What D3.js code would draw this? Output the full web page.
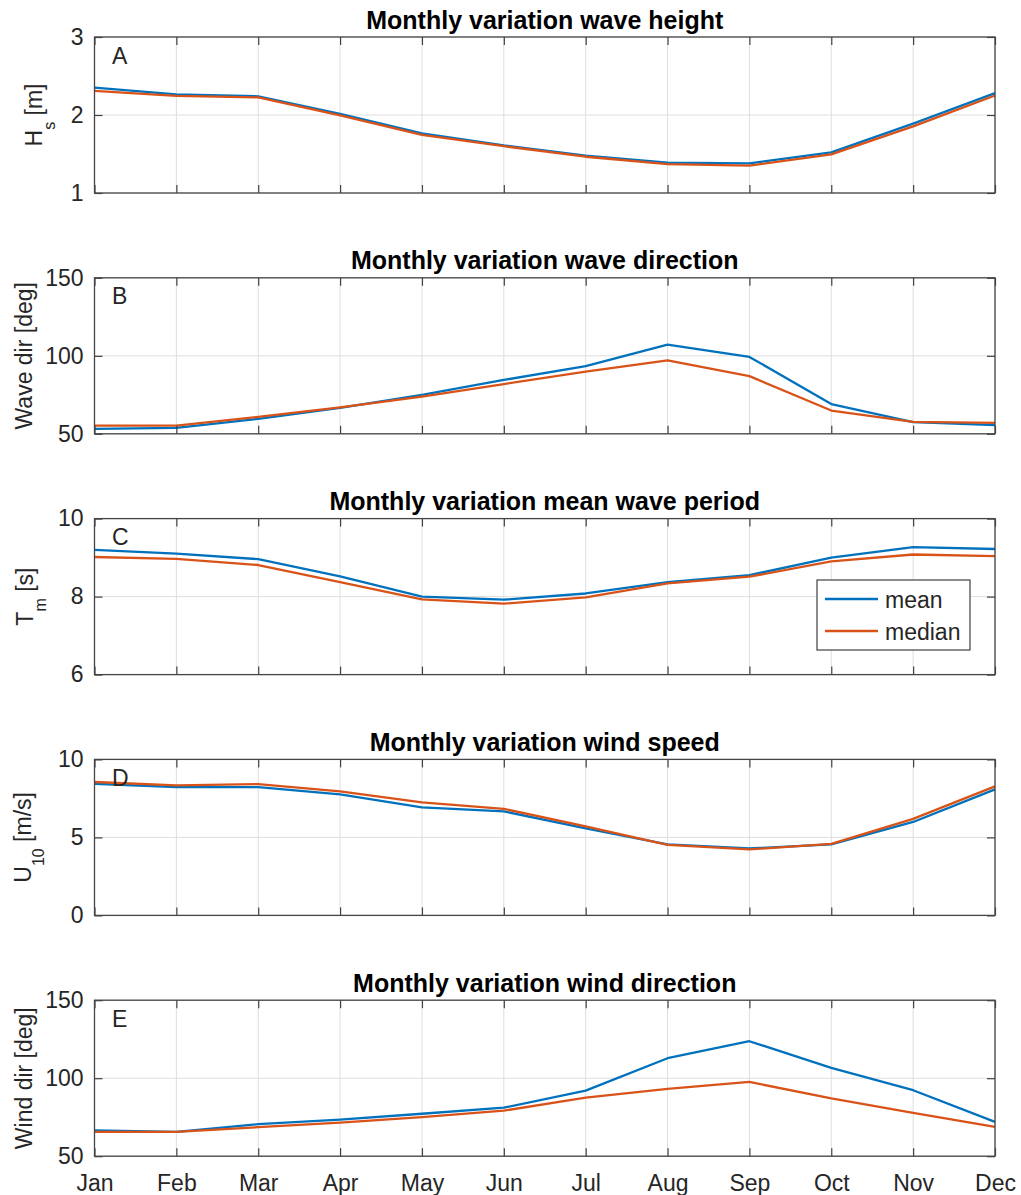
<!DOCTYPE html>
<html>
<head>
<meta charset="utf-8">
<script src="https://cdn.jsdelivr.net/npm/d3@7"></script>
<style>
  body { margin: 0; background: #fff; }
  text { font-family: "Liberation Sans", Arial, Helvetica, sans-serif; fill: #262626; }
  .title { font-weight: bold; fill: #000; }
</style>
</head>
<body>
<div class="chart"></div>
<script>
var svgWidth = 1021;
var svgHeight = 1195;

var months = ["Jan","Feb","Mar","Apr","May","Jun","Jul","Aug","Sep","Oct","Nov","Dec"];

// wave height Hs [m]
var hsMean   = [2.35, 2.265, 2.24, 2.015, 1.765, 1.61, 1.48, 1.39, 1.38, 1.52, 1.89, 2.28];
var hsMedian = [2.31, 2.245, 2.225, 1.995, 1.745, 1.60, 1.465, 1.37, 1.35, 1.495, 1.855, 2.25];
// wave direction [deg]
var wdMean   = [53.2, 53.8, 59.6, 66.6, 75.0, 84.5, 93.4, 107.2, 99.3, 69.1, 57.5, 55.5];
var wdMedian = [55.3, 55.3, 60.8, 66.9, 73.9, 81.9, 89.9, 97.0, 87.0, 64.9, 57.7, 57.0];
// mean wave period Tm [s]
var tmMean   = [9.2, 9.1, 8.96, 8.52, 8.0, 7.92, 8.08, 8.37, 8.55, 9.0, 9.27, 9.22];
var tmMedian = [9.015, 8.965, 8.81, 8.37, 7.93, 7.82, 7.98, 8.34, 8.51, 8.905, 9.08, 9.04];
// wind speed U10 [m/s]
var wsMean   = [8.44, 8.22, 8.22, 7.76, 6.92, 6.67, 5.58, 4.55, 4.29, 4.55, 5.99, 8.08];
var wsMedian = [8.55, 8.33, 8.42, 7.95, 7.24, 6.83, 5.71, 4.52, 4.23, 4.58, 6.19, 8.27];
// wind direction [deg]
var wiMean   = [66.5, 65.6, 70.5, 73.4, 77.2, 81.1, 92.0, 112.8, 123.7, 106.6, 92.3, 72.0];
var wiMedian = [65.6, 65.6, 68.6, 71.5, 75.0, 79.2, 87.5, 93.2, 97.6, 87.0, 77.8, 68.8];

var seriesNames = ["mean", "median"];
var colors = ["#0072BD", "#D95319"];

var panels = [
  {title: "Monthly variation wave height", letter: "A", domain: [1, 3], ticks: [1, 2, 3], label: ["H", "s", " [m]"], labelX: 42, series: [hsMean, hsMedian]},
  {title: "Monthly variation wave direction", letter: "B", domain: [50, 150], ticks: [50, 100, 150], label: ["Wave dir [deg]"], labelX: 31.5, series: [wdMean, wdMedian]},
  {title: "Monthly variation mean wave period", letter: "C", domain: [6, 10], ticks: [6, 8, 10], label: ["T", "m", " [s]"], labelX: 33, series: [tmMean, tmMedian], legend: true},
  {title: "Monthly variation wind speed", letter: "D", domain: [0, 10], ticks: [0, 5, 10], label: ["U", "10", " [m/s]"], labelX: 31, series: [wsMean, wsMedian]},
  {title: "Monthly variation wind direction", letter: "E", domain: [50, 150], ticks: [50, 100, 150], label: ["Wind dir [deg]"], labelX: 31.5, series: [wiMean, wiMedian]}
];

var left = 94.5, right = 995;
var panelTop = 37, panelStep = 240.8, panelH = 156;
var tickLen = 8;
var fontSize = 23;

var svg = d3.select(".chart")
  .append("svg")
  .attr("width", svgWidth)
  .attr("height", svgHeight);

var x = d3.scalePoint()
  .domain(months)
  .range([left, right]);

panels.forEach(function(p, i) {
  var top = panelTop + i * panelStep;
  var y = d3.scaleLinear().domain(p.domain).range([top + panelH, top]);
  var g = svg.append("g");

  // grid
  g.selectAll(".vgrid").data(months).enter().append("line")
    .attr("x1", d => x(d)).attr("x2", d => x(d))
    .attr("y1", top).attr("y2", top + panelH)
    .attr("stroke", "#dedede").attr("stroke-width", 1);
  g.selectAll(".hgrid").data(p.ticks).enter().append("line")
    .attr("x1", left).attr("x2", right)
    .attr("y1", d => y(d)).attr("y2", d => y(d))
    .attr("stroke", "#dedede").attr("stroke-width", 1);

  // lines
  p.series.forEach(function(vals, k) {
    var line = d3.line()
      .x((d, j) => x(months[j]))
      .y(d => y(d));
    g.append("path")
      .datum(vals)
      .attr("fill", "none")
      .attr("stroke", colors[k])
      .attr("stroke-width", 2.3)
      .attr("stroke-linejoin", "round")
      .attr("d", line);
  });

  // inward ticks on all four sides
  var bottomAxis = d3.axisBottom(x).tickSizeInner(-tickLen).tickSizeOuter(0).tickPadding(18).tickFormat(i === 4 ? null : "");
  var topAxis = d3.axisTop(x).tickSizeInner(-tickLen).tickSizeOuter(0).tickFormat("");
  var leftAxis = d3.axisLeft(y).tickValues(p.ticks).tickSizeInner(-tickLen).tickSizeOuter(0).tickPadding(11).tickFormat(d3.format("d"));
  var rightAxis = d3.axisRight(y).tickValues(p.ticks).tickSizeInner(-tickLen).tickSizeOuter(0).tickFormat("");

  [
    [bottomAxis, `translate(0, ${top + panelH})`],
    [topAxis, `translate(0, ${top})`],
    [leftAxis, `translate(${left}, 0)`],
    [rightAxis, `translate(${right}, 0)`]
  ].forEach(function(a) {
    var ag = g.append("g").attr("transform", a[1]).call(a[0]);
    ag.select(".domain").remove();
    ag.selectAll("line").attr("stroke", "#404040").attr("stroke-width", 1.2);
    ag.selectAll("text")
      .attr("font-size", fontSize)
      .attr("fill", "#262626")
      .style("font-family", "'Liberation Sans', Arial, sans-serif");
  });
  g.selectAll(".tick text").filter(function() { return this.textContent === ""; }).remove();

  // box
  g.append("rect")
    .attr("x", left).attr("y", top)
    .attr("width", right - left).attr("height", panelH)
    .attr("fill", "none").attr("stroke", "#454545").attr("stroke-width", 1.3);

  // title
  g.append("text")
    .attr("class", "title")
    .attr("x", (left + right) / 2)
    .attr("y", top - 8.5)
    .attr("text-anchor", "middle")
    .attr("font-size", 25)
    .text(p.title);

  // panel letter
  g.append("text")
    .attr("x", left + 17.5)
    .attr("y", top + 26.5)
    .attr("font-size", fontSize)
    .attr("fill", "#000")
    .text(p.letter);

  // y label
  var lab = g.append("text")
    .attr("transform", `translate(${p.labelX}, ${top + panelH / 2}) rotate(-90)`)
    .attr("text-anchor", "middle")
    .attr("font-size", fontSize);
  lab.append("tspan").text(p.label[0]);
  if (p.label.length > 1) {
    lab.append("tspan").attr("font-size", 16).attr("dy", 13).text(p.label[1]);
    lab.append("tspan").attr("dy", -13).text(p.label[2]);
  }

  // legend
  if (p.legend) {
    var lg = g.append("g").attr("transform", "translate(817, 580)");
    lg.append("rect").attr("width", 153).attr("height", 70)
      .attr("fill", "#fff").attr("stroke", "#404040").attr("stroke-width", 1.2);
    seriesNames.forEach(function(name, k) {
      lg.append("line")
        .attr("x1", 8).attr("x2", 61)
        .attr("y1", 19 + k * 32).attr("y2", 19 + k * 32)
        .attr("stroke", colors[k]).attr("stroke-width", 2.3);
      lg.append("text")
        .attr("x", 68).attr("y", 28 + k * 32)
        .attr("font-size", fontSize).attr("fill", "#000")
        .text(name);
    });
  }
});
</script>
</body>
</html>
